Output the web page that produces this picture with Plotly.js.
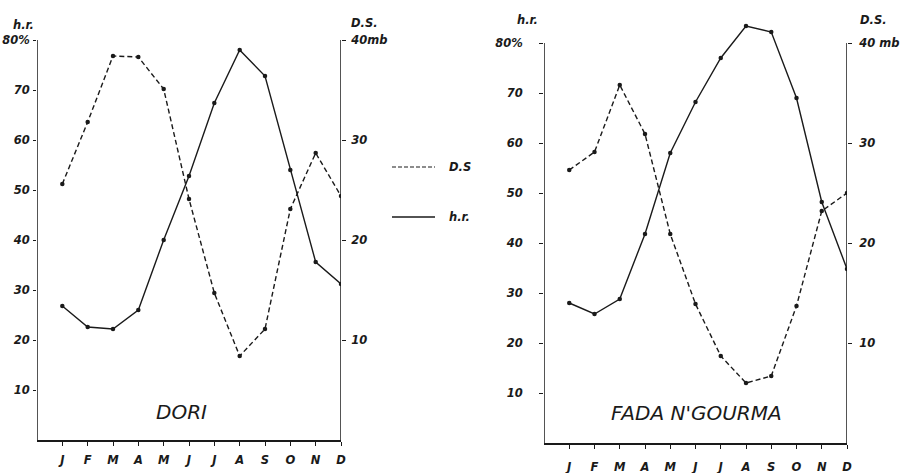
<!DOCTYPE html>
<html>
<head>
<meta charset="utf-8">
<script src="https://cdn.plot.ly/plotly-3.0.1.min.js"></script>
<style>html,body{margin:0;padding:0;background:#fff;}#chart{width:911px;height:473px;}</style>
</head>
<body>
<div id="chart"></div>
<script>
// ---- data ----
const monthPos = [1,2,3,4,5,6,7,8,9,10,11,12];
const monthLabels = ['J','F','M','A','M','J','J','A','S','O','N','D'];
const hrTickVals = [10,20,30,40,50,60,70,80];
const hrTickText = ['10','20','30','40','50','60','70','80%'];
const dsTickVals = [10,20,30,40];
const doriDsTickText = ['10','20','30','40mb'];
const fadaDsTickText = ['10','20','30','40 mb'];
// Dori
const doriHR = [26.8,22.6,22.2,26.0,40.0,52.8,67.4,78.0,72.8,54.0,35.6,31.2];   // relative humidity %
const doriDS = [25.6,31.8,38.4,38.3,35.1,24.1,14.7,8.4,11.1,23.1,28.7,24.4];    // saturation deficit mb
// Fada N'Gourma
const fadaHR = [28.0,25.8,28.8,41.8,58.0,68.2,77.0,83.4,82.2,69.0,48.2,34.8];
const fadaDS = [27.3,29.1,35.8,30.9,20.9,13.9,8.7,6.0,6.7,13.7,23.2,25.0];

const W = 911, H = 473;
const ink = '#1a1a1a';
const tickFont = {family:'DejaVu Sans', size:11.5, color:ink, style:'italic', weight:'bold'};

function line(dash){ return {color:ink, width:1.4, dash:dash}; }
const mk = {size:4.5, color:ink};

const traces = [
  {x:monthPos, y:doriHR, xaxis:'x', yaxis:'y', mode:'lines+markers', line:line('solid'), marker:mk, name:'h.r.', showlegend:false},
  {x:monthPos, y:doriDS, xaxis:'x', yaxis:'y2', mode:'lines+markers', line:line('5px,3px'), marker:mk, name:'D.S.', showlegend:false},
  {x:monthPos, y:fadaHR, xaxis:'x2', yaxis:'y3', mode:'lines+markers', line:line('solid'), marker:mk, name:'h.r.', showlegend:false},
  {x:monthPos, y:fadaDS, xaxis:'x2', yaxis:'y4', mode:'lines+markers', line:line('5px,3px'), marker:mk, name:'D.S.', showlegend:false}
];

function xa(domain, anchor, standoff){
  return {domain:domain, anchor:anchor, range:[0,12], tickvals:monthPos, ticktext:monthLabels,
    ticks:'outside', ticklen:4, tickcolor:ink, tickwidth:1, showline:true, linecolor:ink, linewidth:1.5,
    showgrid:false, zeroline:false, tickfont:tickFont, ticklabelstandoff:standoff, automargin:false, fixedrange:true};
}
function ya(domain, anchor, standoff, len){
  return {domain:domain, anchor:anchor, range:[0,88], tickvals:hrTickVals, ticktext:hrTickText,
    ticks:'outside', ticklen:len, tickcolor:ink, tickwidth:1, showline:false, showgrid:false, zeroline:false,
    tickfont:tickFont, ticklabelstandoff:standoff, automargin:false, fixedrange:true};
}
function yr(overlay, anchor, text, standoff){
  return {overlaying:overlay, anchor:anchor, side:'right', range:[0,44], tickvals:dsTickVals, ticktext:text,
    ticks:'outside', ticklen:4, tickcolor:ink, tickwidth:1, showline:false, showgrid:false, zeroline:false,
    tickfont:tickFont, ticklabelstandoff:standoff, automargin:false, fixedrange:true};
}

function ann(text, px, py, opts){
  return Object.assign({text:text, xref:'paper', yref:'paper', x:px/W, y:1-py/H, showarrow:false,
    xanchor:'center', yanchor:'middle', font:tickFont}, opts||{});
}

const axisShapes = [
  {type:'line', xref:'x', yref:'y', x0:0, x1:0, y0:0, y1:80, line:{color:ink, width:1.5}},
  {type:'line', xref:'x', yref:'y', x0:12, x1:12, y0:0, y1:80, line:{color:ink, width:1.5}},
  {type:'line', xref:'x2', yref:'y3', x0:0, x1:0, y0:0, y1:80, line:{color:ink, width:1.5}},
  {type:'line', xref:'x2', yref:'y3', x0:12, x1:12, y0:0, y1:80, line:{color:ink, width:1.5}},
  // legend samples
  {type:'line', xref:'paper', yref:'paper', x0:392/W, x1:435/W, y0:1-167/H, y1:1-167/H, line:{color:ink, width:1.2, dash:'4px,2px'}},
  {type:'line', xref:'paper', yref:'paper', x0:392/W, x1:435/W, y0:1-217/H, y1:1-217/H, line:{color:ink, width:1.4}}
];

const titleFont = {family:'DejaVu Sans', size:20, color:ink, style:'italic'};

const layout = {
  width:W, height:H, margin:{l:0,r:0,t:0,b:0}, paper_bgcolor:'#fff', plot_bgcolor:'rgba(0,0,0,0)',
  showlegend:false,
  xaxis: xa([37/W, 341/W], 'y', 5),
  yaxis: ya([33/H, 1], 'x', 1, 3),
  yaxis2: yr('y', 'x', doriDsTickText, 3),
  xaxis2: xa([544/W, 847/W], 'y3', 9),
  yaxis3: ya([30/H, 470/H], 'x2', 14, 4),
  yaxis4: yr('y3', 'x2', fadaDsTickText, 5),
  shapes: axisShapes,
  annotations: [
    ann('h.r.', 23, 25),
    ann('D.S.', 364, 23),
    ann('h.r.', 527, 20),
    ann('D.S.', 873, 20),
    ann('DORI', 181, 412, {font:titleFont}),
    ann("FADA N'GOURMA", 696, 413, {font:titleFont}),
    ann('D.S', 447, 167, {xanchor:'left'}),
    ann('h.r.', 447, 217, {xanchor:'left'})
  ]
};

Plotly.newPlot('chart', traces, layout, {displayModeBar:false, staticPlot:true});
</script>
</body>
</html>
